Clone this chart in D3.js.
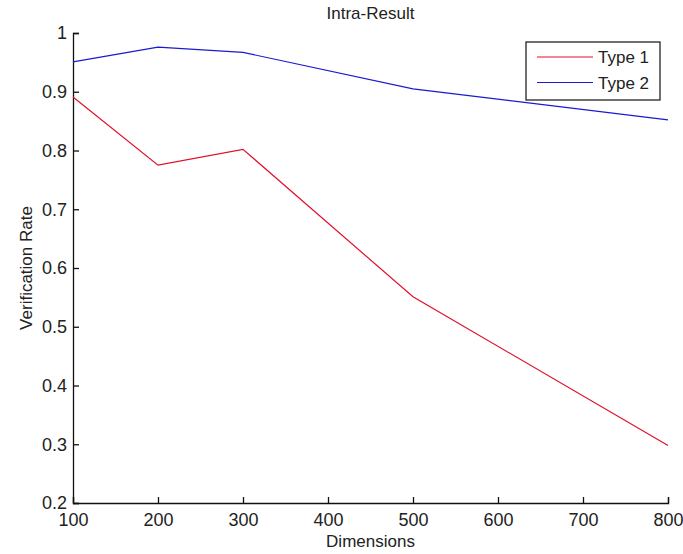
<!DOCTYPE html>
<html>
<head>
<meta charset="utf-8">
<script src="https://cdn.jsdelivr.net/npm/d3@7"></script>
<style>
  body { margin: 0; background: #fff; }
  text { font-family: "Liberation Sans", Arial, sans-serif; fill: #222; }
</style>
</head>
<body>
<div id="chart"></div>
<script>
const dims = [100, 200, 300, 500, 800];
const type1 = [0.891, 0.775, 0.802, 0.551, 0.298];
const type2 = [0.951, 0.976, 0.967, 0.905, 0.852];
const xTicks = [100, 200, 300, 400, 500, 600, 700, 800];
const yTicks = [0.2, 0.3, 0.4, 0.5, 0.6, 0.7, 0.8, 0.9, 1];
const seriesNames = ["Type 1", "Type 2"];
const seriesColors = ["#e0102a", "#1a1ad0"];

const W = 683, H = 554;
const margin = { top: 33, right: 15, bottom: 51, left: 73 },
    width = W - margin.left - margin.right,
    height = H - margin.top - margin.bottom;

const svg = d3.select("#chart")
    .append("svg")
    .attr("width", W)
    .attr("height", H);

const g = svg.append("g")
    .attr("transform", `translate(${margin.left}, ${margin.top})`);

const x = d3.scaleLinear().domain([100, 800]).range([0, width]);
const y = d3.scaleLinear().domain([0.2, 1]).range([height, 0]);

// x axis, ticks point inward
const xAxis = g.append("g")
    .attr("transform", `translate(0, ${height})`)
    .call(d3.axisBottom(x).tickValues(xTicks).tickSize(-6).tickPadding(10).tickFormat(d3.format("d")));

// y axis
const yAxis = g.append("g")
    .call(d3.axisLeft(y).tickValues(yTicks).tickSize(-6).tickPadding(6).tickFormat(d => d === 1 ? "1" : d3.format(".1f")(d)));

[xAxis, yAxis].forEach(a => {
    a.select(".domain").attr("stroke", "#111").attr("stroke-width", 1.3);
    a.selectAll(".tick line").attr("stroke", "#111").attr("stroke-width", 1.3);
    a.selectAll("text").style("font-size", "18px").attr("fill", "#222");
});

const line = d3.line()
    .x((d, i) => x(dims[i]))
    .y(d => y(d));

[type1, type2].forEach((s, i) => {
    g.append("path")
        .datum(s)
        .attr("fill", "none")
        .attr("stroke", seriesColors[i])
        .attr("stroke-width", 1.2)
        .attr("d", line);
});

// title and labels
svg.append("text")
    .attr("x", margin.left + width / 2)
    .attr("y", 19)
    .attr("text-anchor", "middle")
    .style("font-size", "17px")
    .text("Intra-Result");

svg.append("text")
    .attr("x", margin.left + width / 2)
    .attr("y", 547)
    .attr("text-anchor", "middle")
    .style("font-size", "17px")
    .text("Dimensions");

svg.append("text")
    .attr("transform", `translate(32, ${margin.top + height / 2}) rotate(-90)`)
    .attr("text-anchor", "middle")
    .style("font-size", "17px")
    .text("Verification Rate");

// legend
const legend = svg.append("g").attr("transform", "translate(526, 42)");
legend.append("rect")
    .attr("width", 134)
    .attr("height", 58)
    .attr("fill", "#fff")
    .attr("stroke", "#111")
    .attr("stroke-width", 1.2);

seriesNames.forEach((name, i) => {
    const ly = 15 + i * 25.5;
    legend.append("line")
        .attr("x1", 11).attr("x2", 67)
        .attr("y1", ly).attr("y2", ly)
        .attr("stroke", seriesColors[i])
        .attr("stroke-width", 1.2);
    legend.append("text")
        .attr("x", 72)
        .attr("y", ly + 6)
        .style("font-size", "17px")
        .text(name);
});
</script>
</body>
</html>
